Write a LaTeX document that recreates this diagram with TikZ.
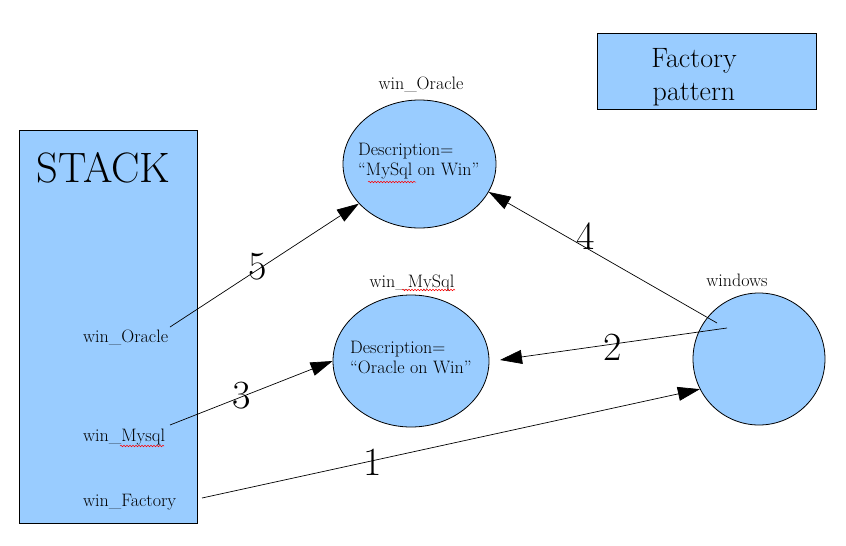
\documentclass[tikz,border=0pt]{standalone}
\usetikzlibrary{arrows.meta,shapes.geometric,decorations.pathmorphing}
\definecolor{boxblue}{HTML}{99CCFF}
\begin{document}
\begin{tikzpicture}[x=1pt,y=-1pt,
  shapebox/.style={draw=black, fill=boxblue, line width=0.8pt, inner sep=0pt},
  lbl/.style={font=\fontsize{18}{21}\selectfont, inner sep=0pt},
  num/.style={font=\fontsize{40}{44}\selectfont, inner sep=0pt},
  arr/.style={-{Triangle[length=22pt,width=14pt]}, line width=0.7pt},
  squig/.style={red, line width=0.5pt, decorate, decoration={snake, amplitude=0.8pt, segment length=3pt}}]
\useasboundingbox[fill=white] (0,0) rectangle (846,546);

% boxes
\node[shapebox, rectangle, minimum width=178pt, minimum height=393pt] (stack) at (108,326.5) {};
\node[inner sep=0pt, anchor=base, font=\fontsize{42.5}{46}\selectfont] (stacktitle) at (103.5,182) {STACK};
\node[shapebox, rectangle, minimum width=219pt, minimum height=76pt] (factory) at (706.5,71) {};
\node[inner sep=0pt, anchor=base, font=\fontsize{28}{31}\selectfont] (factory1) at (694,67) {Factory};
\node[inner sep=0pt, anchor=base, font=\fontsize{28}{31}\selectfont] (factory2) at (694,100) {pattern};

% ellipses
\node[shapebox, ellipse, minimum width=153pt, minimum height=128pt] (oracle) at (419.5,164) {};
\node[shapebox, ellipse, minimum width=156pt, minimum height=132pt] (mysql) at (411,361) {};
\node[shapebox, circle, minimum size=132pt] (windows) at (759,359) {};

% ellipse labels
\node[lbl, anchor=base] (oraclelbl) at (421,89) {win\_Oracle};
\node[lbl, anchor=base] (mysqllbl) at (412,287) {win\_MySql};
\node[lbl, anchor=base] (windowslbl) at (737,286) {windows};

% descriptions
\node[lbl, anchor=base west] (oracled1) at (358,155) {Description=};
\node[lbl, anchor=base west] (oracled2) at (358,175) {``MySql on Win''};
\node[lbl, anchor=base west] (mysqld1) at (350,353) {Description=};
\node[lbl, anchor=base west] (mysqld2) at (350,373) {``Oracle on Win''};

% stack entries
\node[lbl, anchor=base west] (sOracle) at (83,342.5) {win\_Oracle};
\node[lbl, anchor=base west] (sMysql) at (83,441.5) {win\_Mysql};
\node[lbl, anchor=base west] (sFactory) at (83,506.5) {win\_Factory};

% spell-check squiggles
\draw[squig] (368,182) -- (416,182);
\draw[squig] (402,290) -- (455,290);
\draw[squig] (120,446) -- (164,446);

% connector start points
\coordinate (c5) at (170,327);
\coordinate (c3) at (170,425);
\coordinate (c1) at (202,498);
\coordinate (c2) at (727,328);
\coordinate (c4) at (717,323);
\coordinate (t2) at (500,360);

% connectors
\draw[arr] (c5) -- (oracle);
\draw[arr] (c3) -- (mysql.west);
\draw[arr] (c1) -- (windows.207);
\draw[arr] (c2) -- (t2);
\draw[arr] (c4) -- (oracle.-22);

% numbers
\node[num] (n5) at (258,267) {5};
\node[num] (n3) at (242,396) {3};
\node[num] (n1) at (373,462) {1};
\node[num] (n2) at (613,347) {2};
\node[num] (n4) at (586,236) {4};
\end{tikzpicture}
\end{document}
